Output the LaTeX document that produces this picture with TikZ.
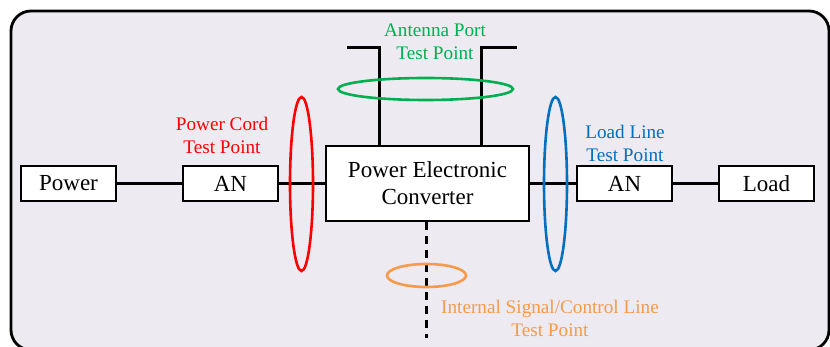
\documentclass[tikz,border=0pt]{standalone}
\usepackage{fontspec}
\setmainfont{Liberation Serif}
\usepackage{xcolor}
\usetikzlibrary{positioning, calc}

\definecolor{bgpanel}{HTML}{EDEAF1}
\definecolor{tpgreen}{HTML}{00B050}
\definecolor{tpblue}{HTML}{0070C0}
\definecolor{tporange}{HTML}{F79A4A}

\tikzset{
    blockbox/.style={draw, fill=white, line width=2.2pt, inner sep=0pt,
        minimum width=95pt, minimum height=35pt,
        font=\fontsize{23}{27}\selectfont},
    wire/.style={line width=3pt},
    tplabel/.style={align=center, inner sep=0pt,
        font=\fontsize{19.2}{23}\selectfont},
    tpring/.style={line width=2.6pt}
}

\begin{document}
\begin{tikzpicture}[x=1pt, y=-1pt]
    \useasboundingbox (0,0) rectangle (830,347);

    % 背景面板
    \draw[fill=bgpanel, line width=2.8pt, rounded corners=20pt] (11,11) rectangle (829,350);

    % 方框
    \node[blockbox] (power) at (68.5,183.5) {Power};
    \node[blockbox] (anL) at (230.5,183.5) {AN};
    \node[blockbox, minimum width=203pt, minimum height=75pt, align=center] (pec) at (427.5,183.5)
        {Power Electronic\\Converter};
    \node[blockbox] (anR) at (624.5,183.5) {AN};
    \node[blockbox] (load) at (766.5,183.5) {Load};

    % 连线
    \draw[wire] (power) -- (anL);
    \draw[wire] (anL) -- (pec);
    \draw[wire] (pec) -- (anR);
    \draw[wire] (anR) -- (load);

    % 天线
    \coordinate (antL) at (379,48);
    \coordinate (antLend) at (347,48);
    \coordinate (antR) at (481,48);
    \coordinate (antRend) at (517,48);
    \draw[wire, line join=miter] (pec.north -| antL) -- (antL) -- (antLend);
    \draw[wire, line join=miter] (pec.north -| antR) -- (antR) -- (antRend);

    % 控制线
    \coordinate (ctrlEnd) at (426,338);
    \draw[wire, dash pattern=on 8pt off 6pt] (pec.south -| ctrlEnd) -- (ctrlEnd);

    % 测试点
    \draw[tpring, tpgreen] (425.5,89) ellipse [x radius=87.5pt, y radius=11pt];
    \draw[tpring, red] (301.5,184) ellipse [x radius=11.5pt, y radius=87pt];
    \draw[tpring, tpblue] (555.5,184) ellipse [x radius=11.5pt, y radius=87pt];
    \draw[tpring, tporange] (426.5,275.5) ellipse [x radius=39.5pt, y radius=11.5pt];

    % 标注
    \node[tplabel, text=tpgreen] (lblAnt) at (435,42) {Antenna Port\\Test Point};
    \node[tplabel, text=red] (lblCord) at (222,135) {Power Cord\\Test Point};
    \node[tplabel, text=tpblue] (lblLoad) at (625,143) {Load Line\\Test Point};
    \node[tplabel, text=tporange] (lblCtrl) at (550,318) {Internal Signal/Control Line\\Test Point};
\end{tikzpicture}
\end{document}
